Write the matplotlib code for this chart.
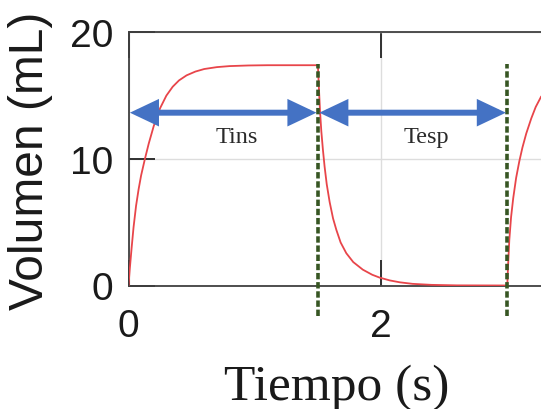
import matplotlib
matplotlib.use("Agg")
import matplotlib.pyplot as plt

plt.rcParams['lines.scale_dashes'] = False

# volumen durante la inspiracion (0 - 1.5 s)
t_ins = [0, 0.01, 0.025, 0.04, 0.06, 0.08, 0.10, 0.13, 0.16, 0.2, 0.25, 0.3,
         0.35, 0.4, 0.46, 0.53, 0.6, 0.7, 0.8, 0.95, 1.1, 1.3, 1.5]
v_ins = [0, 1.3, 3.0, 4.6, 6.3, 7.6, 8.7, 10.0, 11.2, 12.6, 14.0, 15.0,
         15.7, 16.2, 16.6, 16.9, 17.1, 17.25, 17.33, 17.38, 17.4, 17.4, 17.4]

# espiracion (1.5 - 3 s)
t_esp = [1.5, 1.508, 1.517, 1.527, 1.54, 1.553, 1.57, 1.593, 1.62, 1.646, 1.68,
         1.725, 1.78, 1.856, 1.93, 1.99, 2.07, 2.15, 2.25, 2.4, 2.6, 3.0]
v_esp = [17.4, 15.6, 13.75, 12.2, 10.7, 9.4, 8.0, 6.6, 5.3, 4.4, 3.4,
         2.55, 1.85, 1.25, 0.85, 0.62, 0.4, 0.25, 0.13, 0.05, 0.01, 0.0]

# siguiente ciclo
t_sig = [3.0, 3.005, 3.016, 3.03, 3.047, 3.07, 3.095, 3.12, 3.15, 3.19, 3.225, 3.267]
v_sig = [0, 1.3, 3.6, 5.4, 6.9, 8.5, 9.8, 10.9, 12.0, 13.2, 14.1, 14.9]

t_cortes = [1.5, 3.0]
v_flecha = 13.65
fases = ['Tins', 'Tesp']
x_ticks = [0, 2]
y_ticks = [0, 10, 20]

fig = plt.figure(figsize=(5.41, 4.10), dpi=100)
ax = fig.add_axes([128.5 / 541, 1 - 286.5 / 410, 1 - 128.5 / 541, (286.5 - 33.3) / 410])

ax.plot(t_ins + t_esp[1:] + t_sig[1:], v_ins + v_esp[1:] + v_sig[1:],
        color='#e8454a', lw=1.3, zorder=3)

for tc in t_cortes:
    ax.plot([tc, tc], [-2.4, 17.5], color='#375623', lw=2.6,
            dashes=(4.6, 2.0), clip_on=False, zorder=4)

inicio = [0] + t_cortes[:-1]
for a, b, nombre in zip(inicio, t_cortes, fases):
    ax.annotate('', xy=(b, v_flecha), xytext=(a, v_flecha),
                arrowprops=dict(arrowstyle='<|-|>,head_length=0.95,head_width=0.45',
                                color='#4472c4', lw=4.3, mutation_scale=14.5,
                                joinstyle='miter', capstyle='butt',
                                shrinkA=1, shrinkB=1), zorder=5)
    ax.text((a + b) / 2 + 0.11, 11.3, nombre, family='Liberation Serif',
            fontsize=17.5, ha='center', va='baseline', color='#2a2a2a', zorder=6)

ax.set_xlim(0, 3.267)
ax.set_ylim(0, 20)
ax.set_xticks(x_ticks)
ax.set_yticks(y_ticks)
ax.grid(True, color='#dddddd', lw=1.0, zorder=0)
ax.set_axisbelow(True)

for s in ['left', 'bottom', 'top']:
    ax.spines[s].set_color('#404040')
    ax.spines[s].set_linewidth(1.3)
ax.spines['right'].set_visible(False)

ax.tick_params(direction='in', length=18.7, width=1.4, color='#303030',
               top=True, right=False, labelsize=28, labelcolor='#1a1a1a')
ax.tick_params(axis='x', pad=16)
ax.tick_params(axis='y', pad=11)
for lab in ax.get_xticklabels() + ax.get_yticklabels():
    lab.set_family('Liberation Sans')

fig.text(31 / 541, 0.607, 'Volumen (mL)', rotation=90, ha='center', va='center',
         family='Liberation Sans', fontsize=34.5, color='#1a1a1a')
fig.text(336.5 / 541, 1 - 400.5 / 410, 'Tiempo (s)', ha='center', va='baseline',
         family='Liberation Serif', fontsize=37, color='#1a1a1a')

fig.savefig('out.png', dpi=100)
